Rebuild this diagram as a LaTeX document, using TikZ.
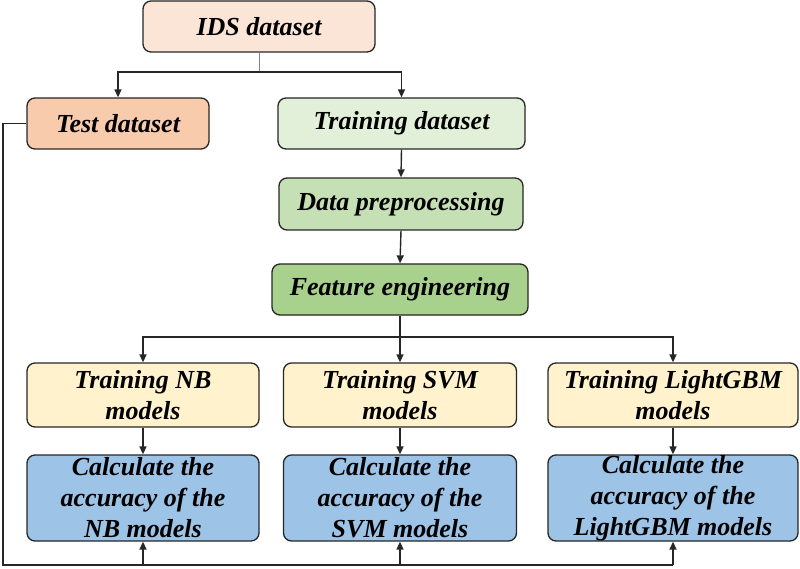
\documentclass[tikz,border=0pt]{standalone}
\usepackage{fontspec}
\setmainfont{Liberation Serif}
\usetikzlibrary{arrows.meta}
\definecolor{cids}{HTML}{FBE5D6}
\definecolor{ctest}{HTML}{F8CBAD}
\definecolor{ctrain}{HTML}{E2F0D9}
\definecolor{cpre}{HTML}{C5E0B4}
\definecolor{cfeat}{HTML}{A9D18E}
\definecolor{cmod}{HTML}{FFF2CC}
\definecolor{cacc}{HTML}{9DC3E6}
\definecolor{cline}{HTML}{262626}
\tikzset{
  box/.style={draw=cline, line width=1.3pt, rounded corners=8pt, inner sep=0pt,
    align=center, font=\fontsize{26}{31}\selectfont\bfseries\itshape},
  conn/.style={draw=cline, line width=1.4pt},
  arr/.style={conn, -{Triangle[length=8pt,width=7pt]}}
}
\begin{document}
\begin{tikzpicture}[x=1pt,y=-1pt]
\useasboundingbox (0,0) rectangle (800,569);
% nodes
\node[box, fill=cids, minimum width=232pt, minimum height=51pt] (ids) at (259,26.5) {IDS dataset};
\node[box, fill=ctest, minimum width=182pt, minimum height=51pt] (test) at (118,123.5) {Test dataset};
\node[box, fill=ctrain, minimum width=247pt, minimum height=51pt] (train) at (401.5,123.5) {Training dataset};
\node[box, fill=cpre, minimum width=244pt, minimum height=52pt] (pre) at (401,204) {Data preprocessing};
\node[box, fill=cfeat, minimum width=256pt, minimum height=51pt] (feat) at (400,289.5) {Feature engineering};
\node[box, fill=cmod, minimum width=232pt, minimum height=64pt] (tnb) at (143,395) {Training NB\\models};
\node[box, fill=cmod, minimum width=233pt, minimum height=64pt] (tsvm) at (400,395) {Training SVM\\models};
\node[box, fill=cmod, minimum width=250pt, minimum height=64pt] (tlg) at (673,395) {Training LightGBM\\models};
\node[box, fill=cacc, minimum width=232pt, minimum height=86pt] (cnb) at (143,498) {Calculate the\\accuracy of the\\NB models};
\node[box, fill=cacc, minimum width=233pt, minimum height=86pt] (csvm) at (400,498) {Calculate the\\accuracy of the\\SVM models};
\node[box, fill=cacc, minimum width=250pt, minimum height=86pt] (clg) at (673,498) {Calculate the\\accuracy of the\\LightGBM models};
% split coordinates
\coordinate (s1) at (259,72);
\coordinate (s2) at (400,337);
\coordinate (l1) at (3,123.5);
\coordinate (l2) at (3,565);
\coordinate (bnb) at (143,565);
\coordinate (bsvm) at (400,565);
\coordinate (blg) at (673,565);
% connectors
\draw[draw=gray, line width=0.8pt] (ids.south) -- (s1);
\draw[arr] (s1) -| (test.north);
\draw[arr] (s1) -| (train.north);
\draw[arr] (train.south) -- (pre.north);
\draw[arr] (pre.south) -- (feat.north);
\draw[conn] (feat.south) -- (s2);
\draw[arr] (s2) -| (tnb.north);
\draw[arr] (s2) -- (tsvm.north);
\draw[arr] (s2) -| (tlg.north);
\draw[arr] (tnb.south) -- (cnb.north);
\draw[arr] (tsvm.south) -- (csvm.north);
\draw[arr] (tlg.south) -- (clg.north);
\draw[conn] (test.west) -- (l1) -- (l2) -- (blg);
\draw[arr] (bnb) -- (cnb.south);
\draw[arr] (bsvm) -- (csvm.south);
\draw[arr] (blg) -- (clg.south);
\end{tikzpicture}
\end{document}
